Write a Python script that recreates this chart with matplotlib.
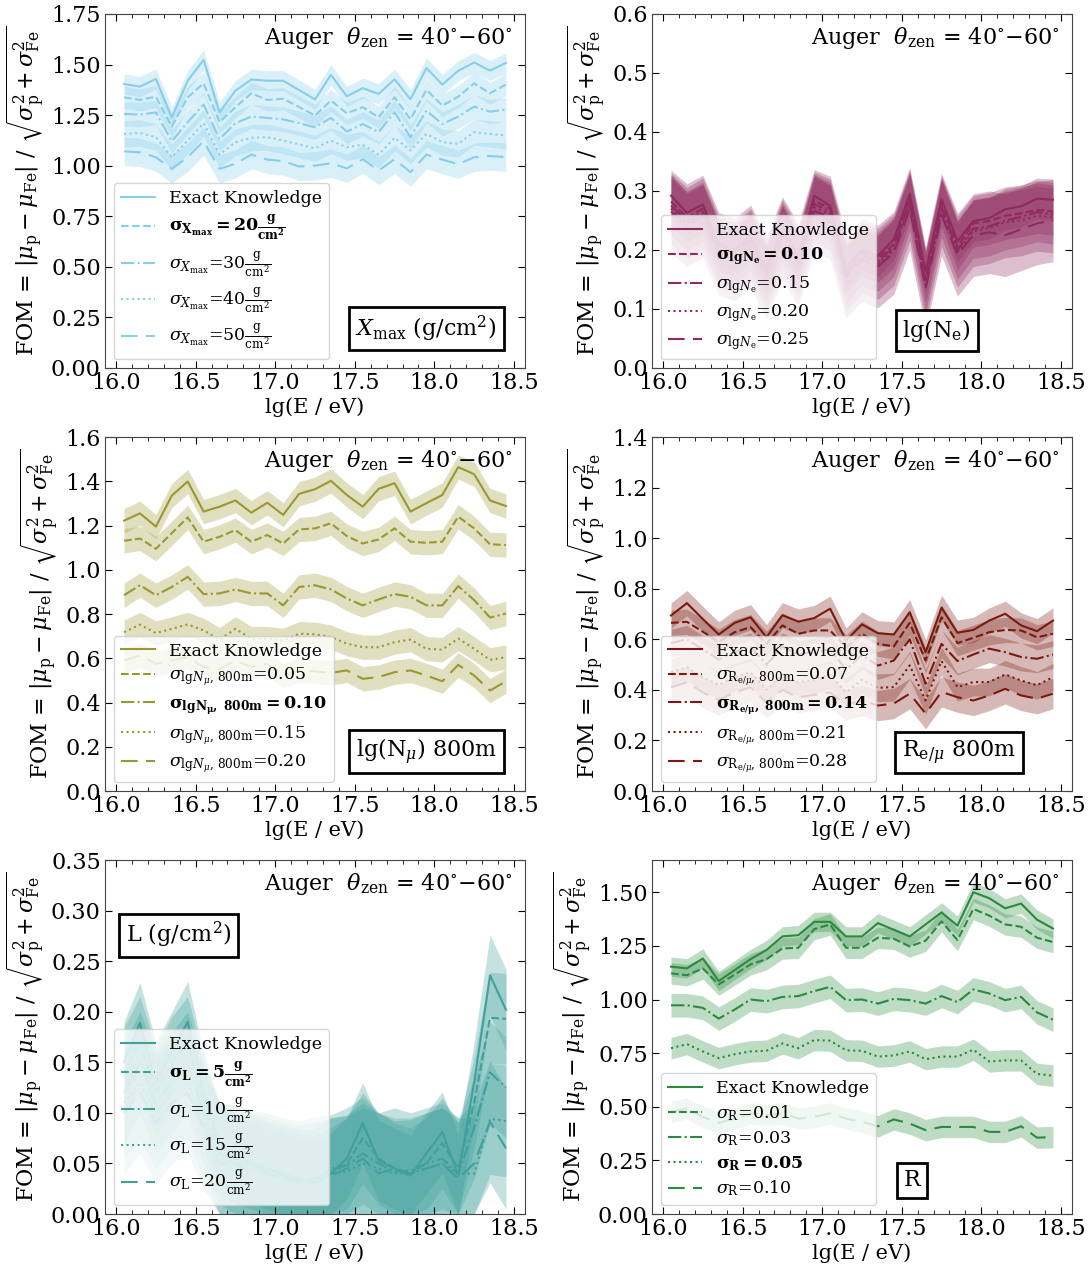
import matplotlib
matplotlib.use('Agg')
import matplotlib.pyplot as plt
from matplotlib.ticker import MultipleLocator

plt.rcParams['font.family'] = 'DejaVu Serif'
plt.rcParams['mathtext.fontset'] = 'dejavuserif'
plt.rcParams['font.size'] = 15

# energy bin centres, lg(E/eV)
lgE = [16.05, 16.15, 16.25, 16.35, 16.45, 16.55, 16.65, 16.75, 16.85, 16.95,
       17.05, 17.15, 17.25, 17.35, 17.45, 17.55, 17.65, 17.75, 17.85, 17.95,
       18.05, 18.15, 18.25, 18.35, 18.45]

# --- Xmax ---
xmax_exact = [1.404, 1.391, 1.429, 1.239, 1.42, 1.523, 1.264, 1.371, 1.426, 1.42, 1.42, 1.374, 1.327,
              1.449, 1.343, 1.383, 1.355, 1.427, 1.328, 1.483, 1.401, 1.469, 1.51, 1.47, 1.508]
xmax_20 = [1.338, 1.325, 1.341, 1.193, 1.338, 1.407, 1.215, 1.289, 1.358, 1.325, 1.331, 1.29, 1.248,
           1.322, 1.259, 1.289, 1.239, 1.338, 1.229, 1.375, 1.297, 1.341, 1.407, 1.358, 1.401]
xmax_30 = [1.256, 1.253, 1.263, 1.121, 1.215, 1.302, 1.132, 1.21, 1.243, 1.236, 1.229, 1.21, 1.19,
           1.236, 1.169, 1.206, 1.166, 1.264, 1.141, 1.272, 1.206, 1.243, 1.292, 1.267, 1.277]
xmax_40 = [1.157, 1.162, 1.141, 1.042, 1.124, 1.21, 1.055, 1.116, 1.138, 1.141, 1.124, 1.105, 1.086,
           1.124, 1.091, 1.104, 1.055, 1.138, 1.075, 1.157, 1.116, 1.108, 1.166, 1.157, 1.149]
xmax_50 = [1.071, 1.066, 1.042, 0.984, 1.042, 1.121, 0.984, 1.01, 1.055, 1.03, 1.023, 0.996, 1.0,
           1.012, 0.987, 1.032, 0.976, 1.032, 0.968, 1.055, 1.03, 1.007, 1.042, 1.048, 1.042]
xmax_err = [0.05, 0.055, 0.06, 0.065, 0.07]

# --- lg(Ne) ---
ne_exact = [0.292, 0.263, 0.277, 0.21, 0.2, 0.225, 0.17, 0.24, 0.19, 0.292, 0.275, 0.17, 0.2,
            0.19, 0.218, 0.295, 0.164, 0.286, 0.215, 0.249, 0.254, 0.269, 0.274, 0.287, 0.285]
ne_010 = [0.282, 0.255, 0.27, 0.205, 0.195, 0.22, 0.165, 0.235, 0.186, 0.284, 0.27, 0.166, 0.196,
          0.185, 0.21, 0.287, 0.15, 0.278, 0.206, 0.245, 0.249, 0.258, 0.262, 0.268, 0.265]
ne_015 = [0.275, 0.25, 0.265, 0.2, 0.19, 0.215, 0.16, 0.23, 0.182, 0.278, 0.265, 0.16, 0.19,
          0.18, 0.205, 0.282, 0.145, 0.272, 0.2, 0.236, 0.24, 0.25, 0.256, 0.264, 0.26]
ne_020 = [0.27, 0.246, 0.262, 0.196, 0.187, 0.21, 0.157, 0.225, 0.178, 0.272, 0.26, 0.157, 0.187,
          0.176, 0.2, 0.276, 0.14, 0.266, 0.197, 0.232, 0.237, 0.247, 0.25, 0.258, 0.255]
ne_025 = [0.265, 0.242, 0.257, 0.193, 0.184, 0.206, 0.154, 0.22, 0.175, 0.266, 0.255, 0.154, 0.183,
          0.172, 0.195, 0.27, 0.135, 0.26, 0.192, 0.225, 0.23, 0.225, 0.235, 0.245, 0.25]
ne_err = [0.035, 0.04, 0.05, 0.06, 0.07]

# --- lg(Nmu) 800m ---
nmu_exact = [1.222, 1.255, 1.195, 1.335, 1.399, 1.263, 1.285, 1.313, 1.258, 1.303, 1.248, 1.343, 1.364,
             1.402, 1.338, 1.285, 1.366, 1.391, 1.263, 1.301, 1.338, 1.464, 1.432, 1.313, 1.288]
nmu_005 = [1.131, 1.141, 1.095, 1.165, 1.237, 1.127, 1.149, 1.179, 1.127, 1.157, 1.119, 1.182, 1.187,
           1.21, 1.152, 1.119, 1.137, 1.187, 1.127, 1.122, 1.127, 1.24, 1.187, 1.115, 1.112]
nmu_010 = [0.885, 0.93, 0.885, 0.922, 0.968, 0.89, 0.893, 0.911, 0.893, 0.893, 0.839, 0.922, 0.93,
           0.911, 0.87, 0.839, 0.866, 0.89, 0.878, 0.839, 0.839, 0.926, 0.863, 0.784, 0.802]
nmu_015 = [0.718, 0.752, 0.714, 0.733, 0.753, 0.726, 0.684, 0.733, 0.689, 0.689, 0.681, 0.711, 0.708,
           0.696, 0.666, 0.65, 0.65, 0.673, 0.684, 0.643, 0.639, 0.689, 0.643, 0.593, 0.605]
nmu_020 = [0.59, 0.613, 0.575, 0.59, 0.605, 0.56, 0.552, 0.59, 0.56, 0.575, 0.522, 0.545, 0.541,
           0.534, 0.545, 0.507, 0.515, 0.537, 0.545, 0.522, 0.496, 0.57, 0.522, 0.454, 0.496]
nmu_err = [0.055, 0.055, 0.055, 0.055, 0.055]

# --- R e/mu 800m ---
rem_exact = [0.694, 0.743, 0.68, 0.619, 0.665, 0.687, 0.608, 0.695, 0.67, 0.684, 0.721, 0.595, 0.659,
             0.624, 0.619, 0.707, 0.549, 0.725, 0.626, 0.637, 0.674, 0.701, 0.655, 0.632, 0.674]
rem_007 = [0.665, 0.669, 0.63, 0.59, 0.628, 0.648, 0.582, 0.655, 0.622, 0.635, 0.635, 0.568, 0.622,
           0.582, 0.572, 0.665, 0.516, 0.687, 0.585, 0.606, 0.628, 0.637, 0.635, 0.608, 0.622]
rem_014 = [0.585, 0.6, 0.56, 0.52, 0.55, 0.57, 0.5, 0.57, 0.54, 0.55, 0.56, 0.48, 0.538,
           0.496, 0.516, 0.6, 0.424, 0.582, 0.514, 0.54, 0.563, 0.549, 0.53, 0.523, 0.54]
rem_021 = [0.47, 0.49, 0.45, 0.42, 0.45, 0.47, 0.4, 0.46, 0.43, 0.44, 0.46, 0.39, 0.44,
           0.408, 0.411, 0.497, 0.358, 0.514, 0.411, 0.431, 0.431, 0.461, 0.437, 0.418, 0.45]
rem_028 = [0.41, 0.43, 0.39, 0.36, 0.39, 0.41, 0.35, 0.4, 0.37, 0.38, 0.39, 0.34, 0.358,
           0.338, 0.346, 0.385, 0.306, 0.392, 0.371, 0.358, 0.378, 0.404, 0.378, 0.365, 0.385]
rem_err = [0.05, 0.05, 0.055, 0.055, 0.06]

# --- L ---
l_exact = [0.15, 0.189, 0.13, 0.16, 0.19, 0.12, 0.07, 0.06, 0.05, 0.045, 0.04, 0.035, 0.03,
           0.04, 0.055, 0.09, 0.053, 0.045, 0.038, 0.06, 0.081, 0.038, 0.13, 0.236, 0.202]
l_5 = [0.14, 0.17, 0.12, 0.15, 0.17, 0.11, 0.065, 0.055, 0.05, 0.045, 0.04, 0.035, 0.032,
       0.04, 0.05, 0.075, 0.055, 0.045, 0.04, 0.05, 0.07, 0.045, 0.11, 0.194, 0.193]
l_10 = [0.12, 0.15, 0.11, 0.13, 0.15, 0.1, 0.06, 0.05, 0.048, 0.042, 0.038, 0.034, 0.033,
        0.045, 0.048, 0.06, 0.05, 0.042, 0.043, 0.05, 0.055, 0.04, 0.085, 0.14, 0.125]
l_15 = [0.11, 0.13, 0.1, 0.12, 0.13, 0.09, 0.055, 0.05, 0.045, 0.04, 0.036, 0.033, 0.035,
        0.04, 0.042, 0.05, 0.045, 0.04, 0.04, 0.045, 0.05, 0.04, 0.04, 0.094, 0.092]
l_20 = [0.1, 0.12, 0.09, 0.11, 0.12, 0.085, 0.05, 0.048, 0.043, 0.04, 0.035, 0.032, 0.036,
        0.038, 0.045, 0.055, 0.04, 0.045, 0.04, 0.045, 0.05, 0.035, 0.05, 0.091, 0.065]
l_err = [0.04, 0.045, 0.05, 0.055, 0.06]

# --- R ---
r_exact = [1.153, 1.145, 1.191, 1.086, 1.137, 1.188, 1.231, 1.294, 1.3, 1.362, 1.362, 1.294, 1.294,
           1.356, 1.325, 1.294, 1.35, 1.406, 1.344, 1.5, 1.472, 1.425, 1.447, 1.372, 1.331]
r_001 = [1.122, 1.113, 1.145, 1.07, 1.116, 1.164, 1.188, 1.238, 1.241, 1.328, 1.35, 1.241, 1.241,
         1.288, 1.283, 1.247, 1.274, 1.364, 1.277, 1.422, 1.391, 1.35, 1.339, 1.288, 1.268]
r_003 = [0.973, 0.973, 0.961, 0.911, 0.953, 1.0, 0.992, 1.012, 1.016, 1.039, 1.059, 0.997, 1.0,
         0.981, 1.003, 0.997, 0.981, 1.016, 0.988, 1.047, 1.028, 0.997, 1.012, 0.94, 0.906]
r_005 = [0.773, 0.792, 0.758, 0.727, 0.745, 0.758, 0.761, 0.795, 0.773, 0.811, 0.808, 0.763, 0.761,
         0.734, 0.739, 0.758, 0.722, 0.734, 0.734, 0.766, 0.711, 0.716, 0.716, 0.653, 0.645]
r_010 = [0.476, 0.492, 0.453, 0.425, 0.445, 0.469, 0.461, 0.469, 0.445, 0.453, 0.469, 0.445, 0.43,
         0.409, 0.441, 0.422, 0.391, 0.406, 0.406, 0.406, 0.383, 0.383, 0.409, 0.356, 0.359]
r_err = [0.045, 0.05, 0.055, 0.05, 0.05]

styles = ['-', '--', '-.', ':', (0, (8, 4))]
auger = r'Auger  $\theta_{\rm zen}$ = 40$^{\circ}$$-$60$^{\circ}$'
ylab = r'FOM = $|\mu_{\rm p} - \mu_{\rm Fe}|\ /\ \sqrt{\sigma_{\rm p}^2 + \sigma_{\rm Fe}^2}$'

panels = [
    dict(series=[xmax_exact, xmax_20, xmax_30, xmax_40, xmax_50], err=xmax_err, color='#87CEEB',
         labels=['Exact Knowledge',
                 r'$\mathbf{\sigma_{X_{max}} = 20\frac{g}{cm^2}}$',
                 r'$\sigma_{X_{\rm max}}$=30$\frac{\rm g}{\rm cm^2}$',
                 r'$\sigma_{X_{\rm max}}$=40$\frac{\rm g}{\rm cm^2}$',
                 r'$\sigma_{X_{\rm max}}$=50$\frac{\rm g}{\rm cm^2}$'],
         ylim=1.75, ystep=0.25, box=r'$X_{\rm max}$ (g/cm$^2$)', bpos=(0.933, 0.069, 'right', 'bottom')),
    dict(series=[ne_exact, ne_010, ne_015, ne_020, ne_025], err=ne_err, color='#8E2A5E',
         labels=['Exact Knowledge',
                 r'$\mathbf{\sigma_{lgN_e} = 0.10}$',
                 r'$\sigma_{{\rm lg}N_{\rm e}}$=0.15',
                 r'$\sigma_{{\rm lg}N_{\rm e}}$=0.20',
                 r'$\sigma_{{\rm lg}N_{\rm e}}$=0.25'],
         ylim=0.6, ystep=0.1, box=r'lg(N$_{\rm e}$)', bpos=(0.678, 0.068, 'center', 'bottom')),
    dict(series=[nmu_exact, nmu_005, nmu_010, nmu_015, nmu_020], err=nmu_err, color='#9A9830',
         labels=['Exact Knowledge',
                 r'$\sigma_{{\rm lg}N_{\mu},\,{\rm 800m}}$=0.05',
                 r'$\mathbf{\sigma_{lgN_\mu,\ 800m} = 0.10}$',
                 r'$\sigma_{{\rm lg}N_{\mu},\,{\rm 800m}}$=0.15',
                 r'$\sigma_{{\rm lg}N_{\mu},\,{\rm 800m}}$=0.20'],
         ylim=1.6, ystep=0.2, box=r'lg(N$_{\mu}$) 800m', bpos=(0.933, 0.069, 'right', 'bottom')),
    dict(series=[rem_exact, rem_007, rem_014, rem_021, rem_028], err=rem_err, color='#7A1A0E',
         labels=['Exact Knowledge',
                 r'$\sigma_{{\rm R}_{{\rm e}/\mu},\,{\rm 800m}}$=0.07',
                 r'$\mathbf{\sigma_{R_{e/\mu},\ 800m} = 0.14}$',
                 r'$\sigma_{{\rm R}_{{\rm e}/\mu},\,{\rm 800m}}$=0.21',
                 r'$\sigma_{{\rm R}_{{\rm e}/\mu},\,{\rm 800m}}$=0.28'],
         ylim=1.4, ystep=0.2, box=r'R$_{{\rm e}/\mu}$ 800m', bpos=(0.867, 0.069, 'right', 'bottom')),
    dict(series=[l_exact, l_5, l_10, l_15, l_20], err=l_err, color='#40A09C',
         labels=['Exact Knowledge',
                 r'$\mathbf{\sigma_L = 5\frac{g}{cm^2}}$',
                 r'$\sigma_{\rm L}$=10$\frac{\rm g}{\rm cm^2}$',
                 r'$\sigma_{\rm L}$=15$\frac{\rm g}{\rm cm^2}$',
                 r'$\sigma_{\rm L}$=20$\frac{\rm g}{\rm cm^2}$'],
         ylim=0.35, ystep=0.05, box=r'L (g/cm$^2$)', bpos=(0.05, 0.83, 'left', 'top')),
    dict(series=[r_exact, r_001, r_003, r_005, r_010], err=r_err, color='#2A8A3E',
         labels=['Exact Knowledge',
                 r'$\sigma_{\rm R}$=0.01',
                 r'$\sigma_{\rm R}$=0.03',
                 r'$\mathbf{\sigma_R = 0.05}$',
                 r'$\sigma_{\rm R}$=0.10'],
         ylim=1.65, ystep=0.25, box='R', bpos=(0.62, 0.064, 'center', 'bottom')),
]

fig, axes = plt.subplots(3, 2, figsize=(10.91, 12.69), dpi=100)
fig.subplots_adjust(left=0.0962, right=0.9826, top=0.989, bottom=0.0433, wspace=0.302, hspace=0.195)

for ax, p in zip(axes.flat, panels):
    for vals, e, ls, lab in zip(p['series'], p['err'], styles, p['labels']):
        lo = [max(v - e, 0) for v in vals]
        hi = [v + e for v in vals]
        ax.fill_between(lgE, lo, hi, color=p['color'], alpha=0.3, lw=0)
        ax.plot(lgE, vals, color=p['color'], ls=ls, lw=1.5, label=lab)

    ax.set_xlim(15.93, 18.57)
    ax.set_ylim(0, p['ylim'])
    ax.xaxis.set_major_locator(MultipleLocator(0.5))
    ax.xaxis.set_minor_locator(MultipleLocator(0.1))
    ax.yaxis.set_major_locator(MultipleLocator(p['ystep']))
    ax.tick_params(which='both', direction='in', top=True, right=True, labelsize=16, pad=3)
    ax.tick_params(which='major', length=5)
    ax.tick_params(which='minor', length=3)
    for s in ax.spines.values():
        s.set_color('#444444')

    ax.set_xlabel('lg(E / eV)', fontsize=15, labelpad=2)
    ax.set_ylabel(ylab, fontsize=16, labelpad=3)
    ax.text(0.97, 0.97, auger, transform=ax.transAxes, ha='right', va='top', fontsize=16)

    bx, by, bha, bva = p['bpos']
    ax.text(bx, by, p['box'], transform=ax.transAxes, ha=bha, va=bva, fontsize=16,
            bbox=dict(boxstyle='square,pad=0.3', fc='white', ec='black', lw=2))

    ax.legend(loc='lower left', fontsize=12.5, framealpha=0.8, handlelength=2.0,
              borderaxespad=0.5, labelspacing=0.35)

fig.savefig('out.png', dpi=100)
